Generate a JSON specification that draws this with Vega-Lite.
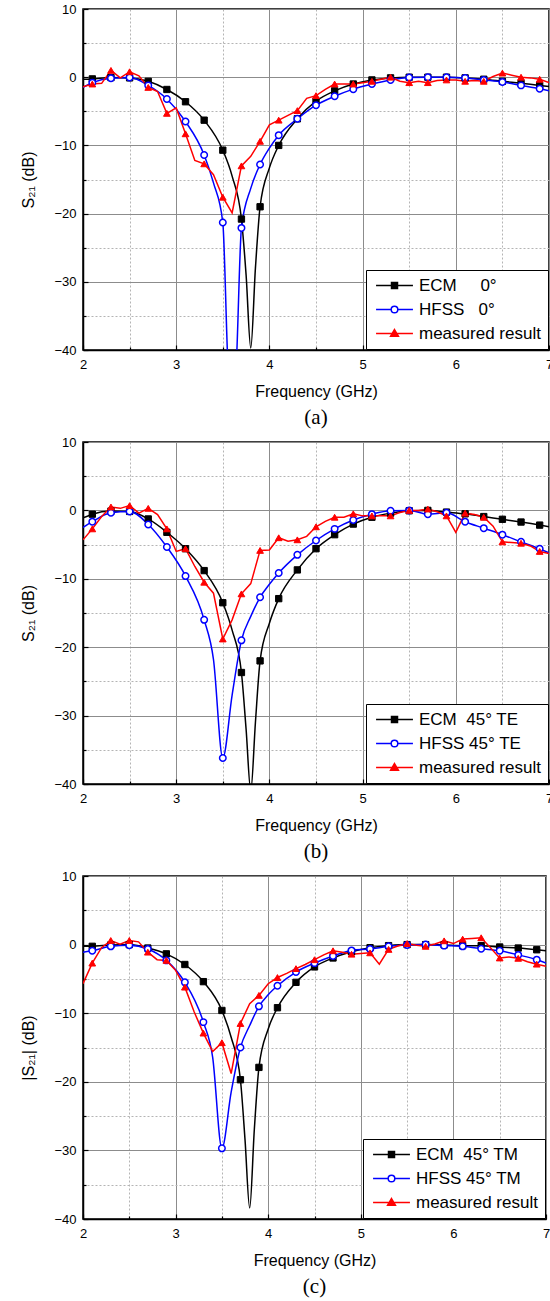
{
 "$schema": "https://vega.github.io/schema/vega-lite/v6.json",
 "background": "white",
 "padding": {"left": 20, "top": 2, "right": 0, "bottom": 0},
 "config": {
  "view": {"stroke": "black", "strokeWidth": 1.5},
  "axis": {"labelFont": "Liberation Sans", "labelFontSize": 13, "labelColor": "black", "titleFont": "Liberation Sans", "titleFontSize": 16, "titleFontWeight": "normal", "titleColor": "black", "domainColor": "black", "domainWidth": 1.5, "tickColor": "black", "tickWidth": 1.2},
  "legend": {"orient": "bottom-right", "offset": 1, "strokeColor": "black", "fillColor": "white", "padding": 7, "labelFont": "Liberation Sans", "labelFontSize": 17, "labelColor": "black", "symbolSize": 85, "symbolStrokeWidth": 1.5, "symbolOffset": 13, "labelOffset": 16, "rowPadding": 6, "cornerRadius": 0}
 },
 "datasets": {
  "a": [
   {"f":2.0,"v":-0.3,"s":"E"},{"f":2.1,"v":-0.25,"s":"E","m":1},{"f":2.3,"v":-0.05,"s":"E","m":1},{"f":2.5,"v":-0.1,"s":"E","m":1},{"f":2.7,"v":-0.6,"s":"E","m":1},{"f":2.9,"v":-1.8,"s":"E","m":1},{"f":3.1,"v":-3.6,"s":"E","m":1},{"f":3.3,"v":-6.3,"s":"E","m":1},{"f":3.5,"v":-10.7,"s":"E","m":1},{"f":3.6,"v":-14.5,"s":"E"},{"f":3.7,"v":-20.8,"s":"E","m":1},{"f":3.75,"v":-29,"s":"E"},{"f":3.8,"v":-39.7,"s":"E"},{"f":3.85,"v":-28,"s":"E"},{"f":3.9,"v":-19.0,"s":"E","m":1},{"f":4.0,"v":-13.3,"s":"E"},{"f":4.1,"v":-10.0,"s":"E","m":1},{"f":4.3,"v":-6.1,"s":"E","m":1},{"f":4.5,"v":-3.5,"s":"E","m":1},{"f":4.7,"v":-2.0,"s":"E","m":1},{"f":4.9,"v":-1.0,"s":"E","m":1},{"f":5.1,"v":-0.4,"s":"E","m":1},{"f":5.3,"v":-0.1,"s":"E","m":1},{"f":5.5,"v":0,"s":"E","m":1},{"f":5.7,"v":0,"s":"E","m":1},{"f":5.9,"v":0,"s":"E","m":1},{"f":6.1,"v":-0.1,"s":"E","m":1},{"f":6.3,"v":-0.3,"s":"E","m":1},{"f":6.5,"v":-0.6,"s":"E","m":1},{"f":6.7,"v":-0.9,"s":"E","m":1},{"f":6.9,"v":-1.2,"s":"E","m":1},{"f":7.0,"v":-1.35,"s":"E"},
   {"f":2.0,"v":-1.5,"s":"H"},{"f":2.1,"v":-0.8,"s":"H","m":1},{"f":2.3,"v":-0.15,"s":"H","m":1},{"f":2.5,"v":-0.05,"s":"H","m":1},{"f":2.7,"v":-1.2,"s":"H","m":1},{"f":2.9,"v":-3.2,"s":"H","m":1},{"f":3.1,"v":-6.5,"s":"H","m":1},{"f":3.3,"v":-11.4,"s":"H","m":1},{"f":3.4,"v":-15.5,"s":"H"},{"f":3.5,"v":-21.3,"s":"H","m":1},{"f":3.55,"v":-40.5,"s":"H"},{"f":3.6,"v":-55,"s":"H"},{"f":3.65,"v":-40.5,"s":"H"},{"f":3.7,"v":-22.1,"s":"H","m":1},{"f":3.8,"v":-16.3,"s":"H"},{"f":3.9,"v":-12.8,"s":"H","m":1},{"f":4.0,"v":-10.4,"s":"H"},{"f":4.1,"v":-8.5,"s":"H","m":1},{"f":4.3,"v":-6.1,"s":"H","m":1},{"f":4.5,"v":-4.1,"s":"H","m":1},{"f":4.7,"v":-2.8,"s":"H","m":1},{"f":4.9,"v":-1.75,"s":"H","m":1},{"f":5.1,"v":-1.0,"s":"H","m":1},{"f":5.3,"v":-0.4,"s":"H","m":1},{"f":5.5,"v":-0.05,"s":"H","m":1},{"f":5.7,"v":0,"s":"H","m":1},{"f":5.9,"v":0,"s":"H","m":1},{"f":6.1,"v":-0.1,"s":"H","m":1},{"f":6.3,"v":-0.4,"s":"H","m":1},{"f":6.5,"v":-0.7,"s":"H","m":1},{"f":6.7,"v":-1.2,"s":"H","m":1},{"f":6.9,"v":-1.7,"s":"H","m":1},{"f":7.0,"v":-2.0,"s":"H"},
   {"f":2.0,"v":-1.4,"s":"M"},{"f":2.1,"v":-1.0,"s":"M","m":1},{"f":2.2,"v":-0.9,"s":"M"},{"f":2.3,"v":1.0,"s":"M","m":1},{"f":2.4,"v":-0.1,"s":"M"},{"f":2.5,"v":0.8,"s":"M","m":1},{"f":2.6,"v":0.2,"s":"M"},{"f":2.7,"v":-1.5,"s":"M","m":1},{"f":2.8,"v":-2.1,"s":"M"},{"f":2.9,"v":-5.3,"s":"M","m":1},{"f":3.0,"v":-4.5,"s":"M"},{"f":3.1,"v":-8.3,"s":"M","m":1},{"f":3.2,"v":-12.2,"s":"M"},{"f":3.3,"v":-12.7,"s":"M","m":1},{"f":3.4,"v":-14.3,"s":"M"},{"f":3.5,"v":-17.6,"s":"M","m":1},{"f":3.6,"v":-19.9,"s":"M"},{"f":3.7,"v":-13.0,"s":"M","m":1},{"f":3.8,"v":-11.6,"s":"M"},{"f":3.9,"v":-9.4,"s":"M","m":1},{"f":4.0,"v":-7.0,"s":"M"},{"f":4.1,"v":-6.3,"s":"M","m":1},{"f":4.2,"v":-5.6,"s":"M"},{"f":4.3,"v":-4.9,"s":"M","m":1},{"f":4.4,"v":-3.1,"s":"M"},{"f":4.5,"v":-2.7,"s":"M","m":1},{"f":4.6,"v":-1.8,"s":"M"},{"f":4.7,"v":-1.0,"s":"M","m":1},{"f":4.8,"v":-1.0,"s":"M"},{"f":4.9,"v":-1.0,"s":"M","m":1},{"f":5.0,"v":-0.8,"s":"M"},{"f":5.1,"v":-0.6,"s":"M","m":1},{"f":5.2,"v":-0.3,"s":"M"},{"f":5.3,"v":0,"s":"M","m":1},{"f":5.4,"v":-0.6,"s":"M"},{"f":5.5,"v":-0.8,"s":"M","m":1},{"f":5.6,"v":-0.6,"s":"M"},{"f":5.7,"v":-0.8,"s":"M","m":1},{"f":5.8,"v":-0.5,"s":"M"},{"f":5.9,"v":-0.4,"s":"M","m":1},{"f":6.0,"v":-0.4,"s":"M"},{"f":6.1,"v":-0.6,"s":"M","m":1},{"f":6.2,"v":-0.5,"s":"M"},{"f":6.3,"v":-0.6,"s":"M","m":1},{"f":6.4,"v":0.1,"s":"M"},{"f":6.5,"v":0.6,"s":"M","m":1},{"f":6.6,"v":0.3,"s":"M"},{"f":6.7,"v":0,"s":"M","m":1},{"f":6.8,"v":-0.1,"s":"M"},{"f":6.9,"v":-0.3,"s":"M","m":1},{"f":7.0,"v":-0.8,"s":"M"}
  ],
  "b": [
   {"f":2.0,"v":-1.1,"s":"E"},{"f":2.1,"v":-0.55,"s":"E","m":1},{"f":2.3,"v":-0.1,"s":"E","m":1},{"f":2.5,"v":-0.15,"s":"E","m":1},{"f":2.7,"v":-1.25,"s":"E","m":1},{"f":2.9,"v":-3.2,"s":"E","m":1},{"f":3.1,"v":-5.6,"s":"E","m":1},{"f":3.3,"v":-8.8,"s":"E","m":1},{"f":3.5,"v":-13.5,"s":"E","m":1},{"f":3.6,"v":-17.5,"s":"E"},{"f":3.7,"v":-23.7,"s":"E","m":1},{"f":3.75,"v":-32,"s":"E"},{"f":3.8,"v":-41,"s":"E"},{"f":3.85,"v":-31,"s":"E"},{"f":3.9,"v":-22.0,"s":"E","m":1},{"f":4.0,"v":-16.5,"s":"E"},{"f":4.1,"v":-12.9,"s":"E","m":1},{"f":4.3,"v":-8.7,"s":"E","m":1},{"f":4.5,"v":-5.6,"s":"E","m":1},{"f":4.7,"v":-3.55,"s":"E","m":1},{"f":4.9,"v":-2.0,"s":"E","m":1},{"f":5.1,"v":-1.0,"s":"E","m":1},{"f":5.3,"v":-0.4,"s":"E","m":1},{"f":5.5,"v":-0.05,"s":"E","m":1},{"f":5.7,"v":0,"s":"E","m":1},{"f":5.9,"v":-0.25,"s":"E","m":1},{"f":6.1,"v":-0.5,"s":"E","m":1},{"f":6.3,"v":-0.9,"s":"E","m":1},{"f":6.5,"v":-1.3,"s":"E","m":1},{"f":6.7,"v":-1.7,"s":"E","m":1},{"f":6.9,"v":-2.15,"s":"E","m":1},{"f":7.0,"v":-2.4,"s":"E"},
   {"f":2.0,"v":-2.5,"s":"H"},{"f":2.1,"v":-1.65,"s":"H","m":1},{"f":2.3,"v":-0.35,"s":"H","m":1},{"f":2.5,"v":-0.15,"s":"H","m":1},{"f":2.7,"v":-2.05,"s":"H","m":1},{"f":2.9,"v":-5.35,"s":"H","m":1},{"f":3.1,"v":-9.6,"s":"H","m":1},{"f":3.3,"v":-16.0,"s":"H","m":1},{"f":3.4,"v":-21.8,"s":"H"},{"f":3.5,"v":-36.2,"s":"H","m":1},{"f":3.6,"v":-27,"s":"H"},{"f":3.7,"v":-19.0,"s":"H","m":1},{"f":3.8,"v":-15.5,"s":"H"},{"f":3.9,"v":-12.7,"s":"H","m":1},{"f":4.0,"v":-10.8,"s":"H"},{"f":4.1,"v":-9.15,"s":"H","m":1},{"f":4.3,"v":-6.5,"s":"H","m":1},{"f":4.5,"v":-4.4,"s":"H","m":1},{"f":4.7,"v":-2.7,"s":"H","m":1},{"f":4.9,"v":-1.4,"s":"H","m":1},{"f":5.1,"v":-0.55,"s":"H","m":1},{"f":5.3,"v":-0.05,"s":"H","m":1},{"f":5.5,"v":0,"s":"H","m":1},{"f":5.7,"v":-0.55,"s":"H","m":1},{"f":5.9,"v":-0.35,"s":"H","m":1},{"f":6.1,"v":-1.65,"s":"H","m":1},{"f":6.3,"v":-2.6,"s":"H","m":1},{"f":6.5,"v":-3.55,"s":"H","m":1},{"f":6.7,"v":-4.6,"s":"H","m":1},{"f":6.9,"v":-5.6,"s":"H","m":1},{"f":7.0,"v":-6.2,"s":"H"},
   {"f":2.0,"v":-4.3,"s":"M"},{"f":2.1,"v":-2.7,"s":"M","m":1},{"f":2.2,"v":-0.9,"s":"M"},{"f":2.3,"v":0.5,"s":"M","m":1},{"f":2.4,"v":0.3,"s":"M"},{"f":2.5,"v":0.7,"s":"M","m":1},{"f":2.6,"v":-0.4,"s":"M"},{"f":2.7,"v":0.3,"s":"M","m":1},{"f":2.8,"v":-0.6,"s":"M"},{"f":2.9,"v":-2.7,"s":"M","m":1},{"f":3.0,"v":-6.0,"s":"M"},{"f":3.1,"v":-5.6,"s":"M","m":1},{"f":3.2,"v":-8.2,"s":"M"},{"f":3.3,"v":-10.5,"s":"M","m":1},{"f":3.4,"v":-12.1,"s":"M"},{"f":3.5,"v":-18.8,"s":"M","m":1},{"f":3.6,"v":-16.0,"s":"M"},{"f":3.7,"v":-12.2,"s":"M","m":1},{"f":3.8,"v":-10.7,"s":"M"},{"f":3.9,"v":-5.85,"s":"M","m":1},{"f":4.0,"v":-5.8,"s":"M"},{"f":4.1,"v":-4.0,"s":"M","m":1},{"f":4.2,"v":-4.5,"s":"M"},{"f":4.3,"v":-4.3,"s":"M","m":1},{"f":4.4,"v":-3.8,"s":"M"},{"f":4.5,"v":-2.4,"s":"M","m":1},{"f":4.6,"v":-1.6,"s":"M"},{"f":4.7,"v":-1.0,"s":"M","m":1},{"f":4.8,"v":-1.0,"s":"M"},{"f":4.9,"v":-0.5,"s":"M","m":1},{"f":5.0,"v":-0.8,"s":"M"},{"f":5.1,"v":-0.8,"s":"M","m":1},{"f":5.2,"v":-0.8,"s":"M"},{"f":5.3,"v":-0.8,"s":"M","m":1},{"f":5.4,"v":-0.3,"s":"M"},{"f":5.5,"v":0,"s":"M","m":1},{"f":5.6,"v":0,"s":"M"},{"f":5.7,"v":0.2,"s":"M","m":1},{"f":5.8,"v":-0.2,"s":"M"},{"f":5.9,"v":-0.8,"s":"M","m":1},{"f":6.0,"v":-3.2,"s":"M"},{"f":6.1,"v":-0.4,"s":"M","m":1},{"f":6.2,"v":-0.6,"s":"M"},{"f":6.3,"v":-1.0,"s":"M","m":1},{"f":6.4,"v":-2.3,"s":"M"},{"f":6.5,"v":-4.6,"s":"M","m":1},{"f":6.6,"v":-4.7,"s":"M"},{"f":6.7,"v":-4.8,"s":"M","m":1},{"f":6.8,"v":-5.2,"s":"M"},{"f":6.9,"v":-6.0,"s":"M","m":1},{"f":7.0,"v":-6.3,"s":"M"}
  ],
  "c": [
   {"f":2.0,"v":-0.25,"s":"E"},{"f":2.1,"v":-0.25,"s":"E","m":1},{"f":2.3,"v":-0.05,"s":"E","m":1},{"f":2.5,"v":0,"s":"E","m":1},{"f":2.7,"v":-0.5,"s":"E","m":1},{"f":2.9,"v":-1.35,"s":"E","m":1},{"f":3.1,"v":-2.9,"s":"E","m":1},{"f":3.3,"v":-5.4,"s":"E","m":1},{"f":3.5,"v":-9.6,"s":"E","m":1},{"f":3.6,"v":-13.5,"s":"E"},{"f":3.7,"v":-19.7,"s":"E","m":1},{"f":3.75,"v":-28.5,"s":"E"},{"f":3.8,"v":-38.4,"s":"E"},{"f":3.85,"v":-27,"s":"E"},{"f":3.9,"v":-17.9,"s":"E","m":1},{"f":4.0,"v":-12.3,"s":"E"},{"f":4.1,"v":-9.2,"s":"E","m":1},{"f":4.3,"v":-5.5,"s":"E","m":1},{"f":4.5,"v":-3.25,"s":"E","m":1},{"f":4.7,"v":-1.95,"s":"E","m":1},{"f":4.9,"v":-1.05,"s":"E","m":1},{"f":5.1,"v":-0.45,"s":"E","m":1},{"f":5.3,"v":-0.15,"s":"E","m":1},{"f":5.5,"v":0,"s":"E","m":1},{"f":5.7,"v":0,"s":"E","m":1},{"f":5.9,"v":-0.05,"s":"E","m":1},{"f":6.1,"v":-0.15,"s":"E","m":1},{"f":6.3,"v":-0.15,"s":"E","m":1},{"f":6.5,"v":-0.35,"s":"E","m":1},{"f":6.7,"v":-0.5,"s":"E","m":1},{"f":6.9,"v":-0.75,"s":"E","m":1},{"f":7.0,"v":-0.9,"s":"E"},
   {"f":2.0,"v":-1.1,"s":"H"},{"f":2.1,"v":-0.9,"s":"H","m":1},{"f":2.3,"v":-0.25,"s":"H","m":1},{"f":2.5,"v":-0.1,"s":"H","m":1},{"f":2.7,"v":-0.65,"s":"H","m":1},{"f":2.9,"v":-2.3,"s":"H","m":1},{"f":3.1,"v":-5.5,"s":"H","m":1},{"f":3.3,"v":-11.3,"s":"H","m":1},{"f":3.4,"v":-16.4,"s":"H"},{"f":3.5,"v":-29.7,"s":"H","m":1},{"f":3.6,"v":-21.5,"s":"H"},{"f":3.7,"v":-15.0,"s":"H","m":1},{"f":3.8,"v":-11.8,"s":"H"},{"f":3.9,"v":-9.0,"s":"H","m":1},{"f":4.0,"v":-7.3,"s":"H"},{"f":4.1,"v":-6.0,"s":"H","m":1},{"f":4.3,"v":-4.0,"s":"H","m":1},{"f":4.5,"v":-2.7,"s":"H","m":1},{"f":4.7,"v":-1.65,"s":"H","m":1},{"f":4.9,"v":-0.85,"s":"H","m":1},{"f":5.1,"v":-0.65,"s":"H","m":1},{"f":5.3,"v":-0.25,"s":"H","m":1},{"f":5.5,"v":-0.05,"s":"H","m":1},{"f":5.7,"v":0,"s":"H","m":1},{"f":5.9,"v":-0.15,"s":"H","m":1},{"f":6.1,"v":-0.25,"s":"H","m":1},{"f":6.3,"v":-0.6,"s":"H","m":1},{"f":6.5,"v":-0.9,"s":"H","m":1},{"f":6.7,"v":-1.5,"s":"H","m":1},{"f":6.9,"v":-2.2,"s":"H","m":1},{"f":7.0,"v":-2.7,"s":"H"},
   {"f":2.0,"v":-5.7,"s":"M"},{"f":2.1,"v":-2.7,"s":"M","m":1},{"f":2.2,"v":-0.45,"s":"M"},{"f":2.3,"v":0.6,"s":"M","m":1},{"f":2.4,"v":0.05,"s":"M"},{"f":2.5,"v":0.6,"s":"M","m":1},{"f":2.6,"v":0.4,"s":"M"},{"f":2.7,"v":-1.1,"s":"M","m":1},{"f":2.8,"v":-2.2,"s":"M"},{"f":2.9,"v":-2.3,"s":"M","m":1},{"f":3.0,"v":-3.75,"s":"M"},{"f":3.1,"v":-6.2,"s":"M","m":1},{"f":3.2,"v":-9.8,"s":"M"},{"f":3.3,"v":-12.9,"s":"M","m":1},{"f":3.4,"v":-15.6,"s":"M"},{"f":3.5,"v":-14.3,"s":"M","m":1},{"f":3.6,"v":-18.8,"s":"M"},{"f":3.7,"v":-11.5,"s":"M","m":1},{"f":3.8,"v":-8.6,"s":"M"},{"f":3.9,"v":-7.4,"s":"M","m":1},{"f":4.0,"v":-5.7,"s":"M"},{"f":4.1,"v":-4.8,"s":"M","m":1},{"f":4.2,"v":-4.2,"s":"M"},{"f":4.3,"v":-3.5,"s":"M","m":1},{"f":4.4,"v":-2.9,"s":"M"},{"f":4.5,"v":-2.2,"s":"M","m":1},{"f":4.6,"v":-1.5,"s":"M"},{"f":4.7,"v":-0.9,"s":"M","m":1},{"f":4.8,"v":-1.1,"s":"M"},{"f":4.9,"v":-1.4,"s":"M","m":1},{"f":5.0,"v":-1.3,"s":"M"},{"f":5.1,"v":-1.2,"s":"M","m":1},{"f":5.2,"v":-2.85,"s":"M"},{"f":5.3,"v":-0.7,"s":"M","m":1},{"f":5.4,"v":-0.2,"s":"M"},{"f":5.5,"v":0.15,"s":"M","m":1},{"f":5.6,"v":-0.1,"s":"M"},{"f":5.7,"v":-0.25,"s":"M","m":1},{"f":5.8,"v":0.1,"s":"M"},{"f":5.9,"v":0.55,"s":"M","m":1},{"f":6.0,"v":0.15,"s":"M"},{"f":6.1,"v":0.8,"s":"M","m":1},{"f":6.2,"v":0.9,"s":"M"},{"f":6.3,"v":1.0,"s":"M","m":1},{"f":6.4,"v":-0.45,"s":"M"},{"f":6.5,"v":-1.95,"s":"M","m":1},{"f":6.6,"v":-1.8,"s":"M"},{"f":6.7,"v":-2.0,"s":"M","m":1},{"f":6.8,"v":-2.5,"s":"M"},{"f":6.9,"v":-2.85,"s":"M","m":1},{"f":7.0,"v":-3.15,"s":"M"}
  ]
 },
 "spacing": 92,
 "bounds": "flush",
 "resolve": {"scale": {"x": "independent", "y": "independent", "color": "independent", "fill": "independent", "shape": "independent"}, "legend": {"color": "independent", "fill": "independent", "shape": "independent"}},
 "vconcat": [
  {
   "width": 466, "height": 341,
   "data": {"name": "a"},
   "title": {"text": "(a)", "orient": "bottom", "font": "Liberation Serif", "fontSize": 21, "fontWeight": "normal", "color": "black", "offset": 8},
   "layer": [
    {"transform": [{"filter": "datum.m == 1"}], "mark": {"type": "point", "opacity": 0},
     "encoding": {
      "x": {"field": "f", "type": "quantitative", "scale": {"domain": [2, 7], "nice": false, "zero": false}, "axis": {"orient": "bottom", "values": [2.5, 3.5, 4.5, 5.5, 6.5], "labels": false, "domain": false, "title": null, "tickSize": -3, "grid": true, "gridDash": [2, 2], "gridColor": "#b4b4b4", "gridWidth": 1}},
      "y": {"field": "v", "type": "quantitative", "scale": {"domain": [-40, 10], "nice": false, "zero": false}, "axis": {"orient": "left", "values": [-35, -25, -15, -5, 5], "labels": false, "domain": false, "title": null, "tickSize": -3, "grid": true, "gridDash": [2, 2], "gridColor": "#b4b4b4", "gridWidth": 1}}
     }},
    {"encoding": {
      "x": {"field": "f", "type": "quantitative", "scale": {"domain": [2, 7], "nice": false, "zero": false}, "axis": {"orient": "bottom", "values": [2, 3, 4, 5, 6, 7], "format": "d", "title": "Frequency (GHz)", "grid": true, "gridColor": "#8c8c8c", "gridWidth": 1, "tickSize": -5, "labelPadding": 13, "labelFlush": false, "titlePadding": 12}},
      "y": {"field": "v", "type": "quantitative", "scale": {"domain": [-40, 10], "nice": false, "zero": false}, "axis": {"orient": "left", "values": [-40, -30, -20, -10, 0, 10], "format": "d", "title": "S₂₁ (dB)", "grid": true, "gridColor": "#8c8c8c", "gridWidth": 1, "tickSize": -5, "labelPadding": 12, "labelFlush": false, "titlePadding": 17}},
      "color": {"field": "s", "type": "nominal", "scale": {"domain": ["E", "H", "M"], "range": ["#000000", "#0000ff", "#ff0000"]}, "legend": {"title": null, "labelExpr": "datum.label == 'E' ? 'ECM\u00a0\u00a0\u00a0\u00a0\u00a00°' : datum.label == 'H' ? 'HFSS\u00a0\u00a0\u00a00°' : 'measured result'"}}
     },
     "layer": [
      {"transform": [{"filter": "datum.s != 'M'"}], "mark": {"type": "line", "interpolate": "monotone", "clip": true, "strokeWidth": 1.5}},
      {"transform": [{"filter": "datum.s == 'M'"}], "mark": {"type": "line", "clip": true, "strokeWidth": 1.5}},
      {"transform": [{"filter": "datum.m == 1 && datum.s == 'E'"}], "mark": {"type": "point", "shape": "square", "filled": false, "fill": "#000000", "fillOpacity": 1, "size": 40, "strokeWidth": 1, "opacity": 1, "clip": true}},
      {"transform": [{"filter": "datum.m == 1 && datum.s == 'H'"}], "mark": {"type": "point", "shape": "circle", "filled": false, "fill": "#ffffff", "fillOpacity": 1, "size": 42, "strokeWidth": 1.5, "opacity": 1, "clip": true}},
      {"transform": [{"filter": "datum.m == 1 && datum.s == 'M'"}], "mark": {"type": "point", "shape": "triangle-up", "filled": false, "fill": "#ff0000", "fillOpacity": 1, "size": 45, "strokeWidth": 1, "opacity": 1, "clip": true}},
      {"transform": [{"filter": "datum.m == 2"}], "mark": {"type": "point", "filled": false, "size": 85, "strokeWidth": 1.5, "opacity": 1},
       "encoding": {
        "fill": {"field": "s", "type": "nominal", "scale": {"domain": ["E", "H", "M"], "range": ["#000000", "#ffffff", "#ff0000"]}, "legend": {"title": null, "labelExpr": "datum.label == 'E' ? 'ECM\u00a0\u00a0\u00a0\u00a0\u00a00°' : datum.label == 'H' ? 'HFSS\u00a0\u00a0\u00a00°' : 'measured result'"}},
        "shape": {"field": "s", "type": "nominal", "scale": {"domain": ["E", "H", "M"], "range": ["M-4,0H4M-0.65,-0.65H0.65V0.65H-0.65Z", "M-4,0H-0.72M0.72,0H4M-0.72,0A0.72,0.72,0,1,1,0.72,0A0.72,0.72,0,1,1,-0.72,0Z", "M-4,0H4M0,-0.85L0.85,0.6H-0.85Z"]}, "legend": {"title": null, "labelExpr": "datum.label == 'E' ? 'ECM\u00a0\u00a0\u00a0\u00a0\u00a00°' : datum.label == 'H' ? 'HFSS\u00a0\u00a0\u00a00°' : 'measured result'"}}
       }}
     ]}
   ],
   "resolve": {"axis": {"x": "independent", "y": "independent"}}
  },
  {
   "width": 466, "height": 342,
   "data": {"name": "b"},
   "title": {"text": "(b)", "orient": "bottom", "font": "Liberation Serif", "fontSize": 21, "fontWeight": "normal", "color": "black", "offset": 8},
   "layer": [
    {"transform": [{"filter": "datum.m == 1"}], "mark": {"type": "point", "opacity": 0},
     "encoding": {
      "x": {"field": "f", "type": "quantitative", "scale": {"domain": [2, 7], "nice": false, "zero": false}, "axis": {"orient": "bottom", "values": [2.5, 3.5, 4.5, 5.5, 6.5], "labels": false, "domain": false, "title": null, "tickSize": -3, "grid": true, "gridDash": [2, 2], "gridColor": "#b4b4b4", "gridWidth": 1}},
      "y": {"field": "v", "type": "quantitative", "scale": {"domain": [-40, 10], "nice": false, "zero": false}, "axis": {"orient": "left", "values": [-35, -25, -15, -5, 5], "labels": false, "domain": false, "title": null, "tickSize": -3, "grid": true, "gridDash": [2, 2], "gridColor": "#b4b4b4", "gridWidth": 1}}
     }},
    {"encoding": {
      "x": {"field": "f", "type": "quantitative", "scale": {"domain": [2, 7], "nice": false, "zero": false}, "axis": {"orient": "bottom", "values": [2, 3, 4, 5, 6, 7], "format": "d", "title": "Frequency (GHz)", "grid": true, "gridColor": "#8c8c8c", "gridWidth": 1, "tickSize": -5, "labelPadding": 13, "labelFlush": false, "titlePadding": 12}},
      "y": {"field": "v", "type": "quantitative", "scale": {"domain": [-40, 10], "nice": false, "zero": false}, "axis": {"orient": "left", "values": [-40, -30, -20, -10, 0, 10], "format": "d", "title": "S₂₁ (dB)", "grid": true, "gridColor": "#8c8c8c", "gridWidth": 1, "tickSize": -5, "labelPadding": 12, "labelFlush": false, "titlePadding": 17}},
      "color": {"field": "s", "type": "nominal", "scale": {"domain": ["E", "H", "M"], "range": ["#000000", "#0000ff", "#ff0000"]}, "legend": {"title": null, "labelExpr": "datum.label == 'E' ? 'ECM\u00a0\u00a045° TE' : datum.label == 'H' ? 'HFSS 45° TE' : 'measured result'"}}
     },
     "layer": [
      {"transform": [{"filter": "datum.s != 'M'"}], "mark": {"type": "line", "interpolate": "monotone", "clip": true, "strokeWidth": 1.5}},
      {"transform": [{"filter": "datum.s == 'M'"}], "mark": {"type": "line", "clip": true, "strokeWidth": 1.5}},
      {"transform": [{"filter": "datum.m == 1 && datum.s == 'E'"}], "mark": {"type": "point", "shape": "square", "filled": false, "fill": "#000000", "fillOpacity": 1, "size": 40, "strokeWidth": 1, "opacity": 1, "clip": true}},
      {"transform": [{"filter": "datum.m == 1 && datum.s == 'H'"}], "mark": {"type": "point", "shape": "circle", "filled": false, "fill": "#ffffff", "fillOpacity": 1, "size": 42, "strokeWidth": 1.5, "opacity": 1, "clip": true}},
      {"transform": [{"filter": "datum.m == 1 && datum.s == 'M'"}], "mark": {"type": "point", "shape": "triangle-up", "filled": false, "fill": "#ff0000", "fillOpacity": 1, "size": 45, "strokeWidth": 1, "opacity": 1, "clip": true}},
      {"transform": [{"filter": "datum.m == 2"}], "mark": {"type": "point", "filled": false, "size": 85, "strokeWidth": 1.5, "opacity": 1},
       "encoding": {
        "fill": {"field": "s", "type": "nominal", "scale": {"domain": ["E", "H", "M"], "range": ["#000000", "#ffffff", "#ff0000"]}, "legend": {"title": null, "labelExpr": "datum.label == 'E' ? 'ECM\u00a0\u00a045° TE' : datum.label == 'H' ? 'HFSS 45° TE' : 'measured result'"}},
        "shape": {"field": "s", "type": "nominal", "scale": {"domain": ["E", "H", "M"], "range": ["M-4,0H4M-0.65,-0.65H0.65V0.65H-0.65Z", "M-4,0H-0.72M0.72,0H4M-0.72,0A0.72,0.72,0,1,1,0.72,0A0.72,0.72,0,1,1,-0.72,0Z", "M-4,0H4M0,-0.85L0.85,0.6H-0.85Z"]}, "legend": {"title": null, "labelExpr": "datum.label == 'E' ? 'ECM\u00a0\u00a045° TE' : datum.label == 'H' ? 'HFSS 45° TE' : 'measured result'"}}
       }}
     ]}
   ],
   "resolve": {"axis": {"x": "independent", "y": "independent"}}
  },
  {
   "width": 463, "height": 343,
   "data": {"name": "c"},
   "title": {"text": "(c)", "orient": "bottom", "font": "Liberation Serif", "fontSize": 21, "fontWeight": "normal", "color": "black", "offset": 8},
   "layer": [
    {"transform": [{"filter": "datum.m == 1"}], "mark": {"type": "point", "opacity": 0},
     "encoding": {
      "x": {"field": "f", "type": "quantitative", "scale": {"domain": [2, 7], "nice": false, "zero": false}, "axis": {"orient": "bottom", "values": [2.5, 3.5, 4.5, 5.5, 6.5], "labels": false, "domain": false, "title": null, "tickSize": -3, "grid": true, "gridDash": [2, 2], "gridColor": "#b4b4b4", "gridWidth": 1}},
      "y": {"field": "v", "type": "quantitative", "scale": {"domain": [-40, 10], "nice": false, "zero": false}, "axis": {"orient": "left", "values": [-35, -25, -15, -5, 5], "labels": false, "domain": false, "title": null, "tickSize": -3, "grid": true, "gridDash": [2, 2], "gridColor": "#b4b4b4", "gridWidth": 1}}
     }},
    {"encoding": {
      "x": {"field": "f", "type": "quantitative", "scale": {"domain": [2, 7], "nice": false, "zero": false}, "axis": {"orient": "bottom", "values": [2, 3, 4, 5, 6, 7], "format": "d", "title": "Frequency (GHz)", "grid": true, "gridColor": "#8c8c8c", "gridWidth": 1, "tickSize": -5, "labelPadding": 13, "labelFlush": false, "titlePadding": 12}},
      "y": {"field": "v", "type": "quantitative", "scale": {"domain": [-40, 10], "nice": false, "zero": false}, "axis": {"orient": "left", "values": [-40, -30, -20, -10, 0, 10], "format": "d", "title": "|S₂₁| (dB)", "grid": true, "gridColor": "#8c8c8c", "gridWidth": 1, "tickSize": -5, "labelPadding": 12, "labelFlush": false, "titlePadding": 17}},
      "color": {"field": "s", "type": "nominal", "scale": {"domain": ["E", "H", "M"], "range": ["#000000", "#0000ff", "#ff0000"]}, "legend": {"title": null, "labelExpr": "datum.label == 'E' ? 'ECM\u00a0\u00a045° TM' : datum.label == 'H' ? 'HFSS 45° TM' : 'measured result'"}}
     },
     "layer": [
      {"transform": [{"filter": "datum.s != 'M'"}], "mark": {"type": "line", "interpolate": "monotone", "clip": true, "strokeWidth": 1.5}},
      {"transform": [{"filter": "datum.s == 'M'"}], "mark": {"type": "line", "clip": true, "strokeWidth": 1.5}},
      {"transform": [{"filter": "datum.m == 1 && datum.s == 'E'"}], "mark": {"type": "point", "shape": "square", "filled": false, "fill": "#000000", "fillOpacity": 1, "size": 40, "strokeWidth": 1, "opacity": 1, "clip": true}},
      {"transform": [{"filter": "datum.m == 1 && datum.s == 'H'"}], "mark": {"type": "point", "shape": "circle", "filled": false, "fill": "#ffffff", "fillOpacity": 1, "size": 42, "strokeWidth": 1.5, "opacity": 1, "clip": true}},
      {"transform": [{"filter": "datum.m == 1 && datum.s == 'M'"}], "mark": {"type": "point", "shape": "triangle-up", "filled": false, "fill": "#ff0000", "fillOpacity": 1, "size": 45, "strokeWidth": 1, "opacity": 1, "clip": true}},
      {"transform": [{"filter": "datum.m == 2"}], "mark": {"type": "point", "filled": false, "size": 85, "strokeWidth": 1.5, "opacity": 1},
       "encoding": {
        "fill": {"field": "s", "type": "nominal", "scale": {"domain": ["E", "H", "M"], "range": ["#000000", "#ffffff", "#ff0000"]}, "legend": {"title": null, "labelExpr": "datum.label == 'E' ? 'ECM\u00a0\u00a045° TM' : datum.label == 'H' ? 'HFSS 45° TM' : 'measured result'"}},
        "shape": {"field": "s", "type": "nominal", "scale": {"domain": ["E", "H", "M"], "range": ["M-4,0H4M-0.65,-0.65H0.65V0.65H-0.65Z", "M-4,0H-0.72M0.72,0H4M-0.72,0A0.72,0.72,0,1,1,0.72,0A0.72,0.72,0,1,1,-0.72,0Z", "M-4,0H4M0,-0.85L0.85,0.6H-0.85Z"]}, "legend": {"title": null, "labelExpr": "datum.label == 'E' ? 'ECM\u00a0\u00a045° TM' : datum.label == 'H' ? 'HFSS 45° TM' : 'measured result'"}}
       }}
     ]}
   ],
   "resolve": {"axis": {"x": "independent", "y": "independent"}}
  }
 ]
}
